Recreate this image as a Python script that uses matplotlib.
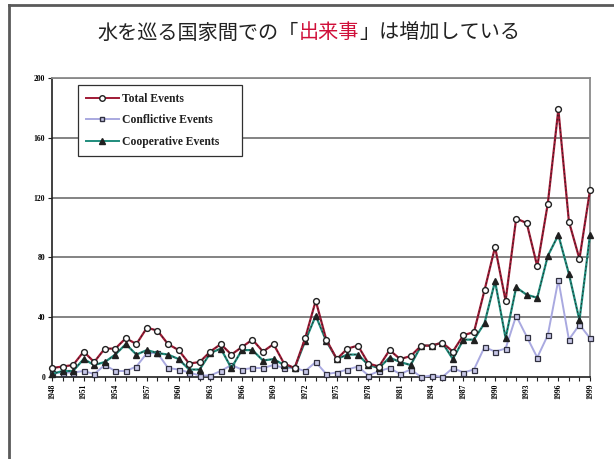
import matplotlib
matplotlib.use("Agg")
import matplotlib.pyplot as plt
from matplotlib.lines import Line2D

years = list(range(1948, 2000))
total_events = [6, 7, 8, 17, 10, 19, 19, 26, 22, 33, 31, 22, 18, 9, 10, 17, 22, 15, 20, 25,
                17, 22, 9, 6, 26, 51, 25, 12, 19, 21, 9, 7, 18, 12, 14, 21, 21, 23, 17, 28,
                30, 58, 87, 51, 106, 103, 74, 116, 179, 104, 79, 125]
conflictive_events = [3, 3, 3, 4, 2, 8, 4, 4, 7, 16, 16, 6, 5, 3, 1, 1, 4, 8, 5, 6,
                      6, 8, 6, 6, 4, 10, 2, 3, 5, 7, 1, 4, 6, 2, 5, 0, 1, 0, 6, 3,
                      5, 20, 17, 19, 41, 27, 13, 28, 65, 25, 35, 26]
cooperative_events = [2, 4, 4, 12, 8, 10, 15, 22, 15, 18, 16, 15, 12, 5, 5, 16, 19, 6, 18, 18,
                      11, 12, 8, 6, 24, 41, 24, 12, 15, 15, 8, 6, 13, 10, 8, 21, 21, 23, 12, 25,
                      25, 36, 64, 26, 60, 55, 53, 81, 95, 69, 38, 95]
series_labels = ["Total Events", "Conflictive Events", "Cooperative Events"]
y_ticks = [0, 40, 80, 120, 160, 200]
x_tick_years = list(range(1948, 2000, 3))
title_parts = ["水を巡る国家間での「", "出来事", "」は増加している"]

W, H = 614, 459
fig = plt.figure(figsize=(W / 100, H / 100), dpi=100)
fig.patch.set_facecolor("white")

# outer frame (left and top)
fig.add_artist(Line2D([9 / W, 9 / W], [0, 1 - 5 / H], transform=fig.transFigure,
                      color="#5a5a5a", lw=2))
fig.add_artist(Line2D([9 / W, 1], [1 - 5 / H, 1 - 5 / H], transform=fig.transFigure,
                      color="#5a5a5a", lw=2))

ax = fig.add_axes([52 / W, 1 - 377 / H, (590 - 52) / W, (377 - 78) / H])
ax.set_xlim(1948, 1999)
ax.set_ylim(0, 200)

for v in y_ticks[1:]:
    ax.axhline(v, color="#7a7a7a", lw=1.3, zorder=1)

serif = ["Liberation Serif", "DejaVu Serif"]

# Conflictive
ax.plot(years, conflictive_events, color="#a9a9e0", lw=1.4, zorder=3, clip_on=False)
ax.plot(years, conflictive_events, ls="none", marker="s", ms=3.6, mfc="#c8c8e8",
        mec="#303040", mew=0.9, zorder=4, clip_on=False)
# Cooperative
ax.plot(years, cooperative_events, color="#1f8c7c", lw=1.6, zorder=5, clip_on=False)
ax.plot(years, cooperative_events, color="#202020", lw=0.6, ls=(0, (2, 3)), zorder=5, clip_on=False)
ax.plot(years, cooperative_events, ls="none", marker="^", ms=4.2, mfc="#202020",
        mec="#202020", zorder=6, clip_on=False)
# Total
ax.plot(years, total_events, color="#a01a35", lw=1.6, zorder=7, clip_on=False)
ax.plot(years, total_events, color="#202020", lw=0.6, ls=(0, (2, 3)), zorder=7, clip_on=False)
ax.plot(years, total_events, ls="none", marker="o", ms=4.2, mfc="white",
        mec="#202020", mew=1.0, zorder=8, clip_on=False)

for s in ["top", "right"]:
    ax.spines[s].set_color("#8a8a8a")
    ax.spines[s].set_linewidth(1.3)
for s in ["left", "bottom"]:
    ax.spines[s].set_color("#202020")
    ax.spines[s].set_linewidth(1.2)

ax.set_yticks(y_ticks)
ax.set_yticklabels([str(v) for v in y_ticks], fontfamily=serif, fontweight="bold", fontsize=5.5)
ax.set_xticks(x_tick_years)
ax.set_xticklabels([str(v) for v in x_tick_years], rotation=90, fontfamily=serif,
                   fontweight="bold", fontsize=5.5)
ax.set_xticks(years, minor=True)
ax.tick_params(axis="both", which="major", length=3, width=0.8, color="#202020", pad=2)
ax.tick_params(axis="x", which="minor", length=3, width=0.8, color="#202020")

handles = [
    Line2D([], [], color="#a01a35", lw=1.4, marker="o", ms=4, mfc="white", mec="#202020"),
    Line2D([], [], color="#a9a9e0", lw=1.4, marker="s", ms=3.5, mfc="#c8c8e8", mec="#303040"),
    Line2D([], [], color="#1f8c7c", lw=1.4, marker="^", ms=4, mfc="#202020", mec="#202020"),
]
leg = ax.legend(handles, series_labels, loc="upper left",
                bbox_to_anchor=(0.048, 0.5, 0.305, 0.477), mode="expand",
                frameon=True, fancybox=False, edgecolor="#303030", framealpha=1,
                prop={"family": serif, "weight": "bold", "size": 8.4},
                handlelength=2.8, handletextpad=0.3, labelspacing=0.8,
                borderpad=0.7, borderaxespad=0)
leg.get_frame().set_linewidth(0.9)
leg.set_zorder(10)
for t in leg.get_texts():
    t.set_color("#202020")

# title with coloured middle part
jp = ["Noto Sans CJK JP", "DejaVu Sans"]
fig.canvas.draw()
renderer = fig.canvas.get_renderer()
colors = ["#222222", "#d0103a", "#222222"]
texts = []
for part, c in zip(title_parts, colors):
    texts.append(fig.text(0, 1 - 33 / H, part, fontsize=14.5, family=jp, color=c,
                          ha="left", va="center"))
widths = [t.get_window_extent(renderer).width for t in texts]
total_w = sum(widths)
x0 = 309 - total_w / 2
for t, w in zip(texts, widths):
    t.set_x(x0 / W)
    x0 += w

fig.savefig("out.png", dpi=100, facecolor="white")
